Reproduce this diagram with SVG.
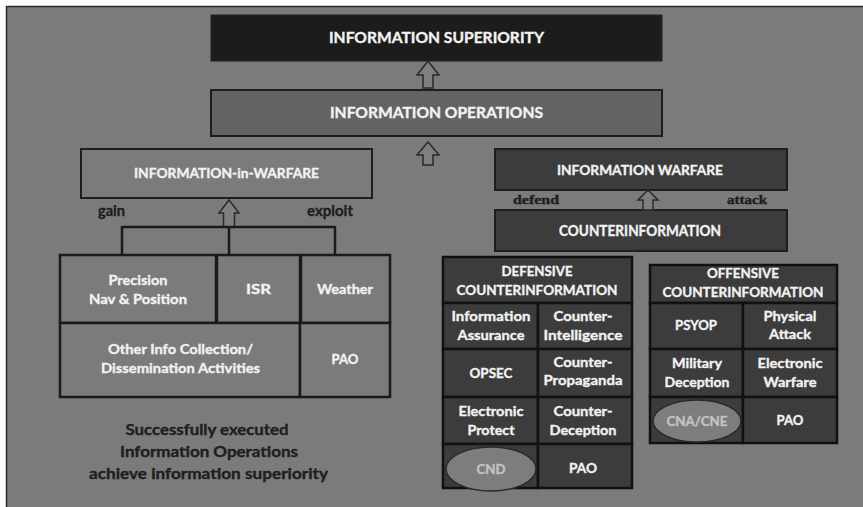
<svg xmlns="http://www.w3.org/2000/svg" width="863" height="507" viewBox="0 0 863 507">
<style>
.t{font-family:Lato,"Open Sans","Liberation Sans",sans-serif;font-weight:bold;text-anchor:middle;stroke-width:0.35;}
.w{fill:#f2f2f2;stroke:#f2f2f2;font-size:14px;}
.h{fill:#f2f2f2;stroke:#f2f2f2;font-size:15px;}
.d{fill:#1e1e1e;stroke:#1e1e1e;font-size:15px;}
.s{font-family:"Liberation Serif",serif;font-weight:bold;fill:#1e1e1e;stroke:#1e1e1e;stroke-width:0.4;font-size:13px;text-anchor:middle;}
.e{fill:#c4c4c4;stroke:#c4c4c4;font-size:14px;}
.lb{fill:#7b7b7b;stroke:#1a1a1a;stroke-width:2.5;}
.db{fill:#3c3c3c;stroke:#111;stroke-width:2.5;}
.arr{fill:#7f7f7f;stroke:#2a2a2a;stroke-width:1.5;stroke-linejoin:miter;}
.ln{fill:none;stroke:#1a1a1a;stroke-width:2.5;}
.el{fill:#7d7d7d;stroke:#2a2a2a;stroke-width:1.5;}
</style>
<rect x="0" y="0" width="863" height="507" fill="#ffffff"/>
<rect x="6.5" y="6.5" width="870" height="510" fill="#7b7b7b" stroke="#2a2a2a" stroke-width="1.5"/>

<g id="info-superiority">
<rect x="211" y="15" width="451" height="46" fill="#1c1c1c" stroke="#222" stroke-width="1"/>
<text class="t h" x="436.5" y="43" textLength="215" lengthAdjust="spacingAndGlyphs">INFORMATION SUPERIORITY</text>
</g>
<g id="info-operations">
<rect x="211" y="90" width="451" height="46" fill="#636363" stroke="#1e1e1e" stroke-width="2"/>
<text class="t h" x="436.5" y="118" textLength="213" lengthAdjust="spacingAndGlyphs">INFORMATION OPERATIONS</text>
</g>
<g id="info-in-warfare">
<rect x="81" y="149" width="291" height="49" fill="#7b7b7b" stroke="#1e1e1e" stroke-width="2"/>
<text class="t w" x="226.5" y="178" textLength="185" lengthAdjust="spacingAndGlyphs">INFORMATION-in-WARFARE</text>
</g>
<g id="info-warfare">
<rect x="495" y="149" width="292" height="41" fill="#3c3c3c" stroke="#1e1e1e" stroke-width="2"/>
<text class="t w" x="640" y="174.5" textLength="166" lengthAdjust="spacingAndGlyphs">INFORMATION WARFARE</text>
</g>
<g id="counterinformation">
<rect x="495" y="210" width="292" height="41" fill="#3c3c3c" stroke="#1e1e1e" stroke-width="2"/>
<text class="t h" x="640" y="235.5" textLength="162" lengthAdjust="spacingAndGlyphs">COUNTERINFORMATION</text>
</g>

<g id="labels">
<text class="t d" x="111.5" y="216" font-size="14" textLength="27" lengthAdjust="spacingAndGlyphs">gain</text>
<text class="t d" x="330" y="216" font-size="14" textLength="46" lengthAdjust="spacingAndGlyphs">exploit</text>
<text class="s" x="536" y="204" textLength="46" lengthAdjust="spacingAndGlyphs">defend</text>
<text class="s" x="747" y="204" textLength="40" lengthAdjust="spacingAndGlyphs">attack</text>
</g>

<g id="precision">
<rect class="lb" x="60" y="255" width="156" height="68"/>
<text class="t w" x="138" y="285" textLength="59" lengthAdjust="spacingAndGlyphs">Precision</text>
<text class="t w" x="138" y="304" textLength="98" lengthAdjust="spacingAndGlyphs">Nav &amp; Position</text>
</g>
<g id="isr">
<rect class="lb" x="217" y="255" width="83" height="68"/>
<text class="t w" x="258.5" y="294" textLength="25" lengthAdjust="spacingAndGlyphs">ISR</text>
</g>
<g id="weather">
<rect class="lb" x="301" y="255" width="89" height="68"/>
<text class="t w" x="345" y="294" textLength="56" lengthAdjust="spacingAndGlyphs">Weather</text>
</g>
<g id="other-info">
<rect class="lb" x="60" y="323" width="240" height="74"/>
<text class="t w" x="180.5" y="354" textLength="145" lengthAdjust="spacingAndGlyphs">Other Info Collection/</text>
<text class="t w" x="180.5" y="373" textLength="159" lengthAdjust="spacingAndGlyphs">Dissemination Activities</text>
</g>
<g id="pao-left">
<rect class="lb" x="300" y="323" width="90" height="74"/>
<text class="t w" x="345" y="364" textLength="27" lengthAdjust="spacingAndGlyphs">PAO</text>
</g>

<g id="summary">
<text class="t d" x="207" y="435" textLength="163" lengthAdjust="spacingAndGlyphs">Successfully executed</text>
<text class="t d" x="209" y="457" textLength="178" lengthAdjust="spacingAndGlyphs">Information Operations</text>
<text class="t d" x="208.5" y="479" textLength="239" lengthAdjust="spacingAndGlyphs">achieve information superiority</text>
</g>

<g id="defensive">
<rect class="db" x="443" y="257" width="189" height="46"/>
<text class="t w" x="537" y="276" textLength="71" lengthAdjust="spacingAndGlyphs">DEFENSIVE</text>
<text class="t w" x="537" y="295" textLength="161" lengthAdjust="spacingAndGlyphs">COUNTERINFORMATION</text>
</g>
<g id="info-assurance">
<rect class="db" x="443" y="303" width="95" height="46"/>
<text class="t w" x="491" y="321" textLength="79" lengthAdjust="spacingAndGlyphs">Information</text>
<text class="t w" x="491" y="340" textLength="67" lengthAdjust="spacingAndGlyphs">Assurance</text>
</g>
<g id="counter-intelligence">
<rect class="db" x="538" y="303" width="94" height="46"/>
<text class="t w" x="583" y="321" textLength="59" lengthAdjust="spacingAndGlyphs">Counter-</text>
<text class="t w" x="583" y="340" textLength="79" lengthAdjust="spacingAndGlyphs">Intelligence</text>
</g>
<g id="opsec">
<rect class="db" x="443" y="349" width="95" height="48"/>
<text class="t w" x="491" y="378" textLength="43" lengthAdjust="spacingAndGlyphs">OPSEC</text>
</g>
<g id="counter-propaganda">
<rect class="db" x="538" y="349" width="94" height="48"/>
<text class="t w" x="583" y="367" textLength="59" lengthAdjust="spacingAndGlyphs">Counter-</text>
<text class="t w" x="583" y="385" textLength="79" lengthAdjust="spacingAndGlyphs">Propaganda</text>
</g>
<g id="electronic-protect">
<rect class="db" x="443" y="397" width="95" height="47"/>
<text class="t w" x="491" y="416" textLength="65" lengthAdjust="spacingAndGlyphs">Electronic</text>
<text class="t w" x="491" y="435" textLength="47" lengthAdjust="spacingAndGlyphs">Protect</text>
</g>
<g id="counter-deception">
<rect class="db" x="538" y="397" width="94" height="47"/>
<text class="t w" x="583" y="416" textLength="59" lengthAdjust="spacingAndGlyphs">Counter-</text>
<text class="t w" x="583" y="435" textLength="67" lengthAdjust="spacingAndGlyphs">Deception</text>
</g>
<g id="cnd">
<rect class="db" x="443" y="444" width="95" height="44"/>
<ellipse class="el" cx="491" cy="469" rx="45" ry="22"/>
<text class="t e" x="491" y="474" textLength="29" lengthAdjust="spacingAndGlyphs">CND</text>
</g>
<g id="pao-def">
<rect class="db" x="538" y="444" width="94" height="44"/>
<text class="t w" x="583" y="473" textLength="28" lengthAdjust="spacingAndGlyphs">PAO</text>
</g>

<g id="offensive">
<rect class="db" x="650" y="265" width="187" height="38"/>
<text class="t w" x="743" y="278" textLength="72" lengthAdjust="spacingAndGlyphs">OFFENSIVE</text>
<text class="t w" x="743" y="297" textLength="161" lengthAdjust="spacingAndGlyphs">COUNTERINFORMATION</text>
</g>
<g id="psyop">
<rect class="db" x="650" y="303" width="93" height="46"/>
<text class="t w" x="696" y="330" textLength="42" lengthAdjust="spacingAndGlyphs">PSYOP</text>
</g>
<g id="physical-attack">
<rect class="db" x="743" y="303" width="94" height="46"/>
<text class="t w" x="790" y="321" textLength="53" lengthAdjust="spacingAndGlyphs">Physical</text>
<text class="t w" x="790" y="339" textLength="42" lengthAdjust="spacingAndGlyphs">Attack</text>
</g>
<g id="military-deception">
<rect class="db" x="650" y="349" width="93" height="48"/>
<text class="t w" x="697" y="368" textLength="50" lengthAdjust="spacingAndGlyphs">Military</text>
<text class="t w" x="697" y="387" textLength="65" lengthAdjust="spacingAndGlyphs">Deception</text>
</g>
<g id="electronic-warfare">
<rect class="db" x="743" y="349" width="94" height="48"/>
<text class="t w" x="790" y="368" textLength="65" lengthAdjust="spacingAndGlyphs">Electronic</text>
<text class="t w" x="790" y="387" textLength="53" lengthAdjust="spacingAndGlyphs">Warfare</text>
</g>
<g id="cna-cne">
<rect class="db" x="650" y="397" width="93" height="46"/>
<ellipse class="el" cx="697" cy="421" rx="44" ry="21"/>
<text class="t e" x="697" y="426" textLength="61" lengthAdjust="spacingAndGlyphs">CNA/CNE</text>
</g>
<g id="pao-off">
<rect class="db" x="743" y="397" width="94" height="46"/>
<text class="t w" x="790" y="425" textLength="27" lengthAdjust="spacingAndGlyphs">PAO</text>
</g>

<g id="connectors">
<polygon class="arr" points="428,61 439,75 433,75 433,88 423,88 423,75 417,75"/>
<polygon class="arr" points="428,142 439,155 433,155 433,165 423,165 423,155 417,155"/>
<polygon class="arr" points="229,200 239,213 234.5,213 234.5,227 223.5,227 223.5,213 219,213"/>
<polygon class="arr" points="648,190 658,200 653,200 653,210 643,210 643,200 638,200"/>
<polyline class="ln" points="122,255 122,227 335,227 335,255"/>
<line class="ln" x1="229" y1="227" x2="229" y2="255"/>
</g>
</svg>
